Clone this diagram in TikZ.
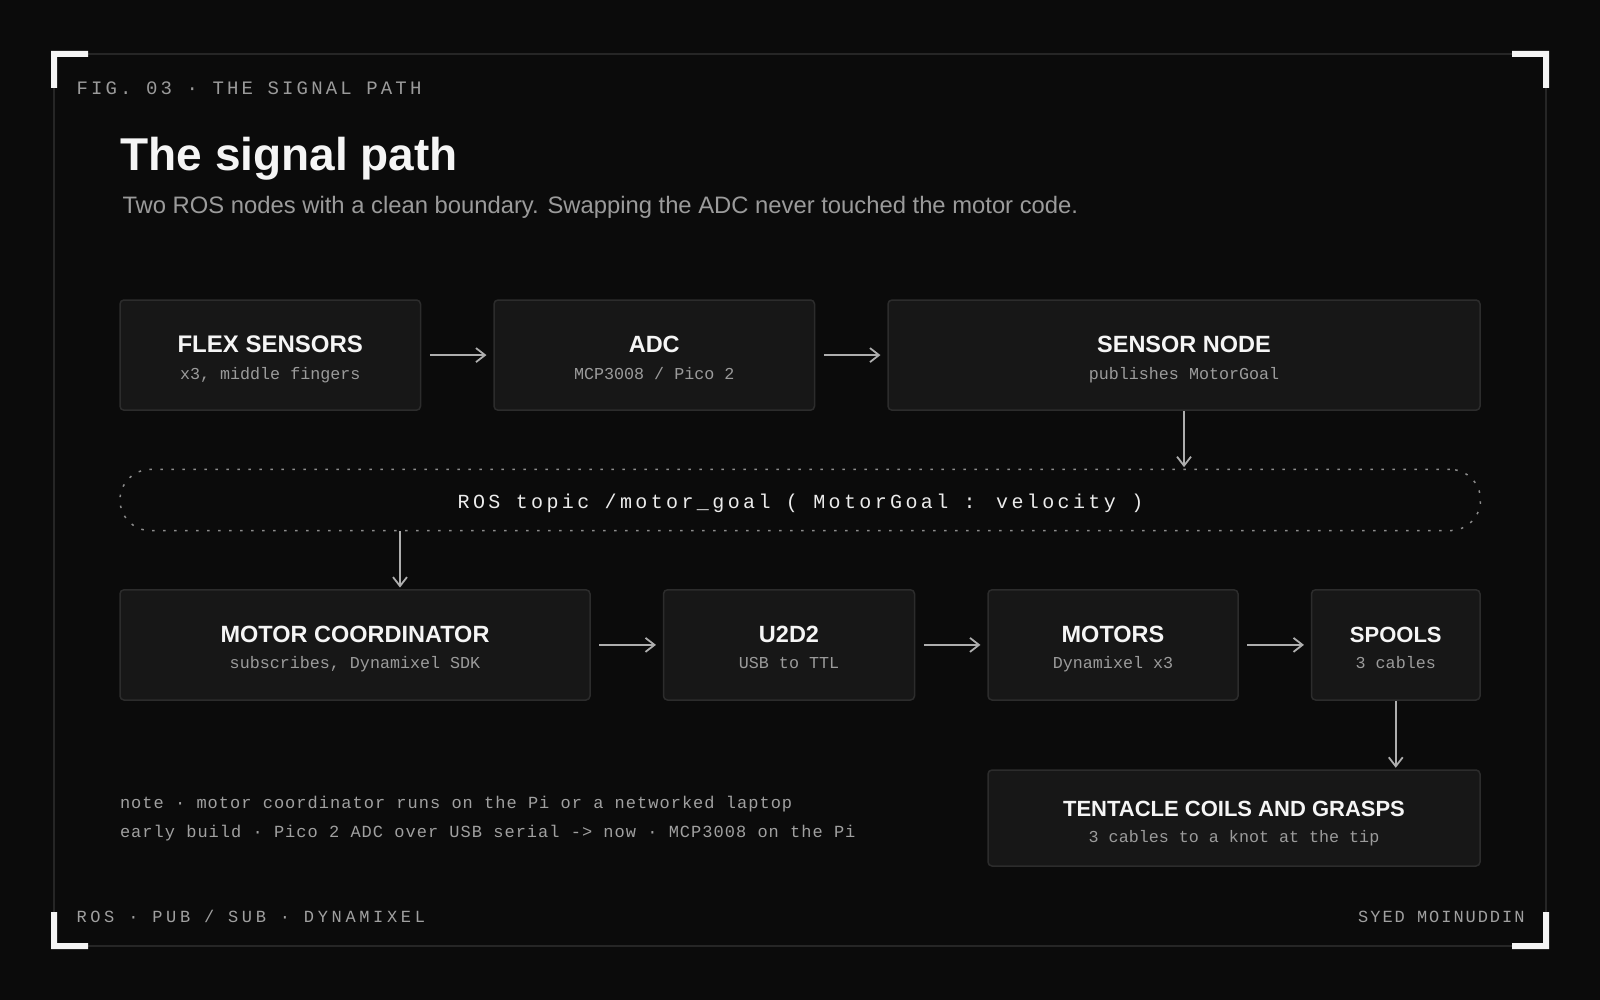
\documentclass[tikz,border=0pt]{standalone}
\usepackage{fontspec}
\setmainfont{Liberation Sans}
\newfontfamily\monofig[LetterSpace=16.6]{Liberation Mono}
\newfontfamily\monofoot[LetterSpace=21.5]{Liberation Mono}
\newfontfamily\monofootR[LetterSpace=11.5]{Liberation Mono}
\newfontfamily\monotopic[LetterSpace=16.9]{Liberation Mono}
\newfontfamily\mononote[LetterSpace=6]{Liberation Mono}
\newfontfamily\monosub{Liberation Mono}
\usetikzlibrary{arrows.meta,calc}
\definecolor{bgcol}{HTML}{0B0B0B}
\definecolor{framecol}{HTML}{262626}
\definecolor{cornercol}{HTML}{F5F5F5}
\definecolor{boxfill}{HTML}{171717}
\definecolor{boxline}{HTML}{2C2C2C}
\definecolor{titlecol}{HTML}{F5F5F5}
\definecolor{subcol}{HTML}{9B9B9B}
\definecolor{monocol}{HTML}{A0A0A0}
\definecolor{topiccol}{HTML}{ECECEC}
\definecolor{arrowcol}{HTML}{AEAEAE}
\definecolor{dotcol}{HTML}{8C8C8C}
\tikzset{
  box/.style={draw=boxline, fill=boxfill, line width=1.5pt, rounded corners=4pt, inner sep=0pt},
  ttl/.style={text=titlecol, font=\bfseries\fontsize{23.5}{23.5}\selectfont, anchor=base, inner sep=0pt},
  ttlbig/.style={ttl, font=\bfseries\fontsize{24}{24}\selectfont},
  ttlsmall/.style={ttl, font=\bfseries\fontsize{22}{22}\selectfont},
  subtxt/.style={text=subcol, font=\monosub\fontsize{16.7}{16.7}\selectfont, anchor=base, inner sep=0pt},
  arr/.style={draw=arrowcol, line width=1.8pt, -{Straight Barb[length=9pt,width=14pt]}},
  harr/.style={arr, shorten <=8.5pt, shorten >=6.8pt},
  varr/.style={arr, shorten >=1.5pt},
  corner/.style={fill=cornercol, draw=none},
  plain/.style={inner sep=0pt, outer sep=0pt},
}
\begin{document}
\begin{tikzpicture}[x=1pt,y=-1pt]
\useasboundingbox (0,0) rectangle (1600,1000);
\fill[bgcol] (0,0) rectangle (1600,1000);
% frame
\draw[framecol, line width=1.6pt] (54,54) rectangle (1546,946);
% corner brackets
\fill[corner] (51,51) -- (88,51) -- (88,57) -- (57,57) -- (57,88) -- (51,88) -- cycle;
\fill[corner] (1549,51) -- (1512,51) -- (1512,57) -- (1543,57) -- (1543,88) -- (1549,88) -- cycle;
\fill[corner] (51,949) -- (88,949) -- (88,943) -- (57,943) -- (57,912) -- (51,912) -- cycle;
\fill[corner] (1549,949) -- (1512,949) -- (1512,943) -- (1543,943) -- (1543,912) -- (1549,912) -- cycle;

% header
\node[plain, anchor=base west, text=subcol, font=\monofig\fontsize{19}{19}\selectfont] (fig) at (76.5,95) {FIG. 03 · THE SIGNAL PATH};
\node[plain, anchor=base west, text=titlecol, font=\bfseries\fontsize{46}{46}\selectfont] (title) at (120.5,170.7) {The signal path};
\node[plain, anchor=base west, text=subcol, font=\fontsize{23.8}{23.8}\selectfont] (subtitle) at (122.5,213.5) {Two ROS nodes with a clean boundary. Swapping the ADC never touched the motor code.};

% row 1
\node[box, minimum width=300.5pt, minimum height=110.2pt] (flex) at (270.25,355.1) {};
\node[box, minimum width=320.5pt, minimum height=110.2pt] (adc) at (654.25,355.1) {};
\node[box, minimum width=592pt, minimum height=110.2pt] (sensor) at (1184,355.1) {};
\node[ttlbig] (flexT) at ($(flex.center)+(0,-2.5)$) {FLEX SENSORS};
\node[subtxt] (flexS) at ($(flex.center)+(0,24)$) {x3, middle fingers};
\node[ttl] (adcT) at ($(adc.center)+(0,-2.5)$) {ADC};
\node[subtxt] (adcS) at ($(adc.center)+(0,24)$) {MCP3008 / Pico 2};
\node[ttl] (sensorT) at ($(sensor.center)+(0,-2.5)$) {SENSOR NODE};
\node[subtxt] (sensorS) at ($(sensor.center)+(0,24)$) {publishes MotorGoal};

% topic
\node[draw=dotcol, line width=1.5pt, dash pattern=on 2.5pt off 8.5pt, rounded corners=30.6pt, minimum width=1360.5pt, minimum height=61.2pt, inner sep=0pt] (topic) at (800.25,500) {};
\node[plain, anchor=base, text=topiccol, font=\monotopic\fontsize{20}{20}\selectfont] (topicT) at (800.5,508.3) {ROS topic /motor\_goal ( MotorGoal : velocity )};

% row 2
\node[box, minimum width=470pt, minimum height=110.2pt] (mc) at (355,644.9) {};
\node[box, minimum width=251pt, minimum height=110.2pt] (u2d2) at (789,644.9) {};
\node[box, minimum width=250pt, minimum height=110.2pt] (motors) at (1113,644.9) {};
\node[box, minimum width=168.5pt, minimum height=110.2pt] (spools) at (1395.75,644.9) {};
\node[ttl] (mcT) at ($(mc.center)+(0,-2.5)$) {MOTOR COORDINATOR};
\node[subtxt] (mcS) at ($(mc.center)+(0,24)$) {subscribes, Dynamixel SDK};
\node[ttl] (u2d2T) at ($(u2d2.center)+(0,-2.5)$) {U2D2};
\node[subtxt] (u2d2S) at ($(u2d2.center)+(0,24)$) {USB to TTL};
\node[ttl] (motorsT) at ($(motors.center)+(0,-2.5)$) {MOTORS};
\node[subtxt] (motorsS) at ($(motors.center)+(0,24)$) {Dynamixel x3};
\node[ttlsmall] (spoolsT) at ($(spools.center)+(0,-2.5)$) {SPOOLS};
\node[subtxt] (spoolsS) at ($(spools.center)+(0,24)$) {3 cables};

% row 3
\node[box, minimum width=492pt, minimum height=96pt] (tent) at (1234,818) {};
\node[ttlsmall] (tentT) at ($(tent.center)+(0,-2)$) {TENTACLE COILS AND GRASPS};
\node[subtxt] (tentS) at ($(tent.center)+(0,24.3)$) {3 cables to a knot at the tip};

% notes
\node[plain, anchor=base west, text=monocol, font=\mononote\fontsize{17}{17}\selectfont] (note1) at (120,808.8) {note · motor coordinator runs on the Pi or a networked laptop};
\node[plain, anchor=base west, text=monocol, font=\mononote\fontsize{17}{17}\selectfont] (note2) at (120,837.3) {early build · Pico 2 ADC over USB serial -> now · MCP3008 on the Pi};

% footer
\node[plain, anchor=base west, text=monocol, font=\monofoot\fontsize{17}{17}\selectfont] (footL) at (76.5,922.3) {ROS · PUB / SUB · DYNAMIXEL};
\node[plain, anchor=base east, text=monocol, font=\monofootR\fontsize{17}{17}\selectfont] (footR) at (1524.5,922.3) {SYED MOINUDDIN};

% connectors
\draw[harr] (flex.east) -- (adc.west);
\draw[harr] (adc.east) -- (sensor.west);
\draw[varr] (sensor.south) -- (sensor.south |- topic.north);
\coordinate (mcin) at (400,0);
\draw[varr] (topic.south -| mcin) -- (mc.north -| mcin);
\draw[harr] (mc.east) -- (u2d2.west);
\draw[harr] (u2d2.east) -- (motors.west);
\draw[harr] (motors.east) -- (spools.west);
\draw[varr] (spools.south) -- (tent.north -| spools.south);
\end{tikzpicture}
\end{document}
